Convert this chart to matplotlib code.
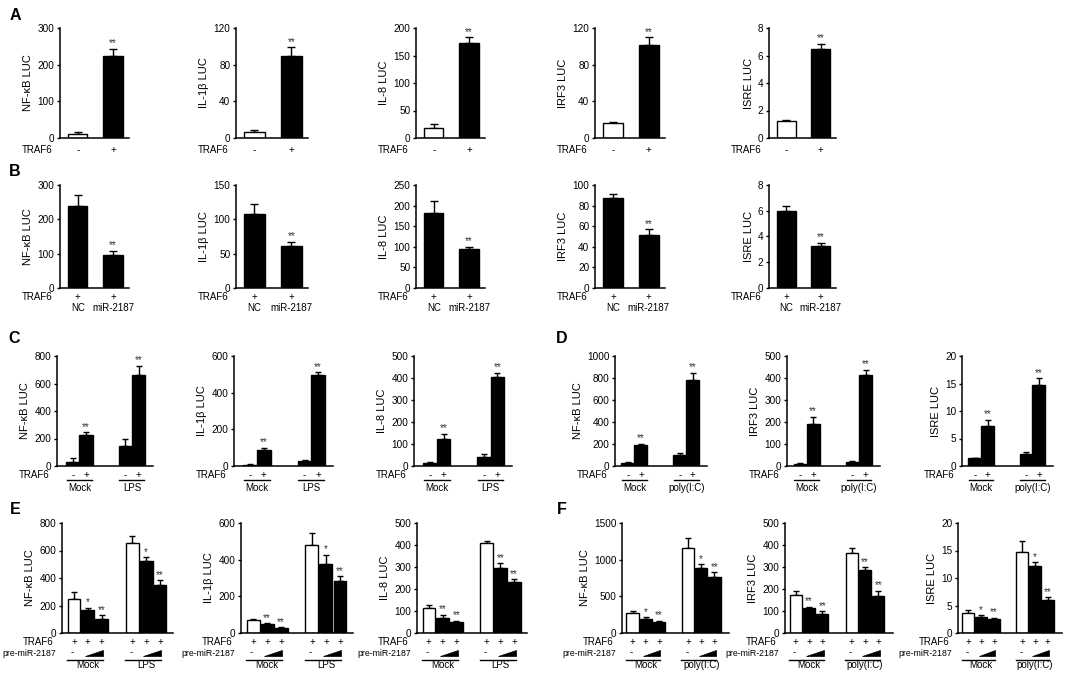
import numpy as np
import matplotlib
matplotlib.use("Agg")
import matplotlib.pyplot as plt
from matplotlib.patches import Polygon

W, H = 1084, 676
plt.rcParams['font.family'] = ['Liberation Sans', 'DejaVu Sans']
plt.rcParams['font.size'] = 7

# ---------------- data ----------------
ab_labels = ['NF-κB LUC', 'IL-1β LUC', 'IL-8 LUC', 'IRF3 LUC', 'ISRE LUC']

a_means = [[12, 224], [7, 90], [19, 173], [16, 101], [1.22, 6.45]]
a_errs = [[4, 19], [1.5, 9], [7, 10], [2, 9], [0.1, 0.4]]
a_top = [300, 120, 200, 120, 8]
a_step = [100, 40, 50, 40, 2]
a_signs = ['-', '+']
a_stars = ['', '**']

b_means = [[240, 95], [108, 61], [182, 95], [87, 51], [6.0, 3.25]]
b_errs = [[30, 13], [14, 6], [30, 5], [4.5, 6], [0.4, 0.25]]
b_top = [300, 150, 250, 100, 8]
b_step = [100, 50, 50, 20, 2]
b_signs = ['+', '+']
b_groups = ['NC', 'miR-2187']
b_stars = ['', '**']

c_labels = ['NF-κB LUC', 'IL-1β LUC', 'IL-8 LUC']
c_means = [[30, 222, 148, 665], [8, 88, 28, 497], [13, 125, 43, 405]]
c_errs = [[25, 22, 48, 65], [3, 12, 5, 15], [4, 22, 10, 18]]
c_top = [800, 600, 500]
c_step = [200, 200, 100]
c_groups = ['Mock', 'LPS']

d_labels = ['NF-κB LUC', 'IRF3 LUC', 'ISRE LUC']
d_means = [[28, 188, 102, 780], [10, 192, 20, 415], [1.4, 7.3, 2.2, 14.7]]
d_errs = [[5, 15, 15, 68], [2, 32, 3, 23], [0.1, 1.1, 0.4, 1.3]]
d_top = [1000, 500, 20]
d_step = [200, 100, 5]
d_groups = ['Mock', 'poly(I:C)']

cd_signs = ['-', '+', '-', '+']
cd_stars = ['', '**', '', '**']

e_labels = ['NF-κB LUC', 'IL-1β LUC', 'IL-8 LUC']
e_means = [[250, 170, 105, 655, 527, 350],
           [72, 48, 28, 480, 375, 282],
           [115, 70, 48, 410, 295, 233]]
e_errs = [[45, 12, 25, 50, 25, 35],
          [5, 5, 4, 65, 52, 27],
          [12, 12, 8, 10, 22, 12]]
e_stars = [['', '*', '**', '', '*', '**'],
           ['', '**', '**', '', '*', '**'],
           ['', '**', '**', '', '**', '**']]
e_top = [800, 600, 500]
e_step = [200, 200, 100]
e_groups = ['Mock', 'LPS']

f_labels = ['NF-κB LUC', 'IRF3 LUC', 'ISRE LUC']
f_means = [[270, 190, 150, 1165, 885, 770],
           [175, 112, 87, 362, 288, 168],
           [3.7, 3.0, 2.5, 14.8, 12.1, 6.0]]
f_errs = [[28, 22, 15, 125, 55, 60],
          [18, 8, 12, 25, 12, 25],
          [0.4, 0.2, 0.3, 2.0, 0.8, 0.5]]
f_stars = [['', '*', '**', '', '*', '**'],
           ['', '**', '**', '', '**', '**'],
           ['', '*', '**', '', '*', '**']]
f_top = [1500, 500, 20]
f_step = [500, 100, 5]
f_groups = ['Mock', 'poly(I:C)']

# ---------------- layout (pixel boxes: left, top, right, bottom) ----------------
a_cols = [(60, 129), (236, 308), (416, 485), (595, 665), (769, 836)]
a_rows = (28, 138)
b_rows = (185, 288)
c_cols = [(57, 153), (234, 333), (414, 512)]
d_cols = [(615, 707), (787, 880), (962, 1053)]
cd_rows = (356, 466)
e_cols = [(62, 173), (241, 353), (417, 527)]
f_cols = [(622, 729), (785, 893), (958, 1062)]
ef_rows = (523, 633)

fig = plt.figure(figsize=(W / 100, H / 100), dpi=100)


def make_axes(cols, rows):
    l, r = cols
    t, b = rows
    ax = fig.add_axes([l / W, 1 - b / H, (r - l) / W, (b - t) / H])
    ax.px = (r - l, b - t)
    return ax


def style(ax, top, step, label):
    ax.set_ylim(0, top)
    ax.set_yticks(np.arange(0, top + step / 2, step))
    ax.spines[['top', 'right']].set_visible(False)
    ax.spines['left'].set_linewidth(1.1)
    ax.spines['bottom'].set_linewidth(1.1)
    ax.tick_params(axis='y', length=2.5, width=1, pad=1.5, labelsize=7.2)
    ax.tick_params(axis='x', bottom=False, labelbottom=False)
    ax.set_ylabel(label, fontsize=8, labelpad=3)


def draw_bars(ax, x, means, errs, colors, stars, width, cap):
    ax.errorbar(x, means, yerr=[np.zeros(len(errs)), errs], fmt='none',
                ecolor='black', elinewidth=1, capsize=cap, capthick=1, zorder=1)
    ax.bar(x, means, width, color=colors, edgecolor='black', linewidth=1, zorder=2)
    for xi, m, e, s in zip(x, means, errs, stars):
        if s:
            ax.annotate(s, (xi, m + e), xytext=(0, 0.3), textcoords='offset points',
                        ha='center', va='bottom', fontsize=7, color='#333333')


def below(ax, x, dy, s, size=7):
    ax.text(x, -dy / ax.px[1], s, transform=ax.get_xaxis_transform(),
            ha='center', va='center', fontsize=size, clip_on=False)


def row_label(ax, gap, dy, s, size=7):
    ax.text(-gap / ax.px[0], -dy / ax.px[1], s, transform=ax.transAxes,
            ha='right', va='center', fontsize=size, clip_on=False)


def hline(ax, x0, x1, dy):
    y = -dy / ax.px[1]
    ax.plot([x0, x1], [y, y], transform=ax.get_xaxis_transform(),
            color='black', lw=1, clip_on=False)


# ---- A ----
x2 = np.array([0, 1])
for i in range(5):
    ax = make_axes(a_cols[i], a_rows)
    style(ax, a_top[i], a_step[i], ab_labels[i])
    draw_bars(ax, x2, a_means[i], a_errs[i], ['white', 'black'], a_stars, 0.55, 3)
    row_label(ax, 7, 12, 'TRAF6')
    for xi, s in zip(x2, a_signs):
        below(ax, xi, 12, s)
    ax.set_xlim(-0.5, 1.45)

# ---- B ----
for i in range(5):
    ax = make_axes(a_cols[i], b_rows)
    style(ax, b_top[i], b_step[i], ab_labels[i])
    draw_bars(ax, x2, b_means[i], b_errs[i], ['black', 'black'], b_stars, 0.55, 3)
    row_label(ax, 7, 9, 'TRAF6')
    for xi, s, g in zip(x2, b_signs, b_groups):
        below(ax, xi, 9, s)
        below(ax, xi, 20, g)
    ax.set_xlim(-0.5, 1.45)

# ---- C and D ----
x4 = np.array([0, 1, 4, 5])
for cols, labels, means, errs, tops, steps, groups, xl in [
        (c_cols, c_labels, c_means, c_errs, c_top, c_step, c_groups, (-1.2, 6.1)),
        (d_cols, d_labels, d_means, d_errs, d_top, d_step, d_groups, (-1.0, 6.1))]:
    for i in range(3):
        ax = make_axes(cols[i], cd_rows)
        style(ax, tops[i], steps[i], labels[i])
        draw_bars(ax, x4, means[i], errs[i], ['black'] * 4, cd_stars, 1.0, 2.5)
        row_label(ax, 7, 9, 'TRAF6')
        for xi, s in zip(x4, cd_signs):
            below(ax, xi, 9, s)
        for g, x0 in zip(groups, [0, 4]):
            hline(ax, x0 - 0.45, x0 + 1.45, 14)
            below(ax, x0 + 0.5, 22, g)
        ax.set_xlim(*xl)

# ---- E and F ----
x6 = np.array([0, 1, 2, 4.2, 5.2, 6.2])
six_colors = ['white', 'black', 'black', 'white', 'black', 'black']
for cols, labels, means, errs, stars, tops, steps, groups, xl in [
        (e_cols, e_labels, e_means, e_errs, e_stars, e_top, e_step, e_groups, (-0.86, 7.13)),
        (f_cols, f_labels, f_means, f_errs, f_stars, f_top, f_step, f_groups, (-0.8, 7.3))]:
    for i in range(3):
        ax = make_axes(cols[i], ef_rows)
        style(ax, tops[i], steps[i], labels[i])
        draw_bars(ax, x6, means[i], errs[i], six_colors, stars[i], 0.92, 2.5)
        row_label(ax, 8, 9, 'TRAF6')
        row_label(ax, 6, 21, 'pre-miR-2187', size=6.3)
        for xi in x6:
            below(ax, xi, 9, '+')
        for g, x0 in zip(groups, [0, 4.2]):
            below(ax, x0 - 0.1, 19, '-')
            wedge = Polygon([(x0 + 0.8, -23 / ax.px[1]), (x0 + 2.1, -23 / ax.px[1]),
                             (x0 + 2.1, -17 / ax.px[1])], closed=True,
                            transform=ax.get_xaxis_transform(), fc='black',
                            ec='black', lw=0.5, clip_on=False)
            ax.add_patch(wedge)
            hline(ax, x0 - 0.5, x0 + 2.1, 26.5)
            below(ax, x0 + 1, 32.5, g)
        ax.set_xlim(*xl)

# ---- panel letters ----
for s, (px, py) in zip('ABCDEF', [(15, 15), (15, 171), (14, 339), (562, 339),
                                  (15, 509), (562, 510)]):
    fig.text(px / W, 1 - py / H, s, fontsize=11.5, fontweight='bold',
             ha='center', va='center')

fig.savefig('out.png', dpi=100)
